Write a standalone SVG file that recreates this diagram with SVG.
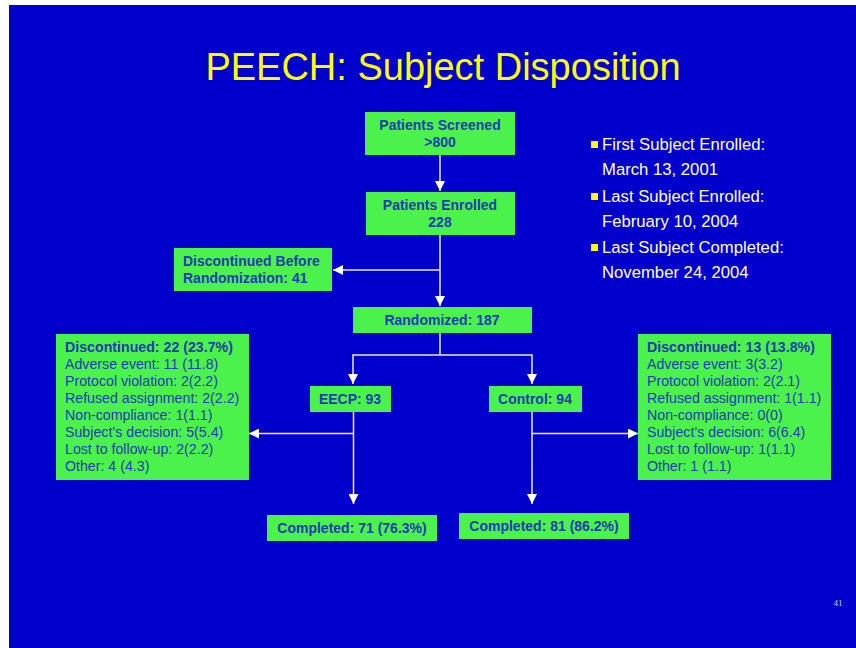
<svg xmlns="http://www.w3.org/2000/svg" width="856" height="648" viewBox="0 0 856 648">
<defs>
<style>
.box{fill:#4CF24C;}
.bt{font-family:"Liberation Sans",Arial,sans-serif;font-size:14px;font-weight:bold;fill:#1E3CB4;text-anchor:middle;}
.lt{font-family:"Liberation Sans",Arial,sans-serif;font-size:14.2px;fill:#1E3CB4;}
.lb{font-weight:bold;}
.wt{font-family:"Liberation Sans",Arial,sans-serif;font-size:16.7px;fill:#FFFFFF;}
.ln{fill:none;stroke:#E8E8FF;stroke-width:1.5;}
</style>
<marker id="ah" viewBox="0 0 10 10" refX="10" refY="5" markerWidth="10" markerHeight="10" markerUnits="userSpaceOnUse" orient="auto">
<path d="M0,0 L10,5 L0,10 Z" fill="#FFFFFF"/>
</marker>
</defs>
<rect x="0" y="0" width="856" height="648" fill="#FFFFFF"/>
<rect x="9" y="5" width="847" height="643" fill="#0000CC"/>
<text x="443" y="80" font-family="Liberation Sans,Arial,sans-serif" font-size="38" fill="#FFFF00" text-anchor="middle">PEECH: Subject Disposition</text>

<g id="connectors">
<line class="ln" x1="440" y1="155" x2="440" y2="191" marker-end="url(#ah)"/>
<line class="ln" x1="440" y1="235" x2="440" y2="306" marker-end="url(#ah)"/>
<line class="ln" x1="440" y1="270" x2="333" y2="270" marker-end="url(#ah)"/>
<polyline class="ln" points="440,333 440,355"/>
<line class="ln" x1="353" y1="355" x2="532" y2="355"/>
<line class="ln" x1="353" y1="354.3" x2="353" y2="384" marker-end="url(#ah)"/>
<line class="ln" x1="532" y1="354.3" x2="532" y2="384" marker-end="url(#ah)"/>
<line class="ln" x1="353.5" y1="412" x2="353.5" y2="504" marker-end="url(#ah)"/>
<line class="ln" x1="353.5" y1="433.5" x2="249" y2="433.5" marker-end="url(#ah)"/>
<line class="ln" x1="532" y1="412" x2="532" y2="504" marker-end="url(#ah)"/>
<line class="ln" x1="532" y1="433.5" x2="638" y2="433.5" marker-end="url(#ah)"/>
</g>

<g id="screened">
<rect class="box" x="365" y="112" width="150" height="43"/>
<text class="bt" x="440" y="130">Patients Screened</text>
<text class="bt" x="440" y="147">&gt;800</text>
</g>
<g id="enrolled">
<rect class="box" x="366" y="192" width="149" height="43"/>
<text class="bt" x="440" y="210">Patients Enrolled</text>
<text class="bt" x="440" y="227">228</text>
</g>
<g id="disc-before">
<rect class="box" x="174" y="248" width="158" height="43"/>
<text class="bt" x="183" y="266" style="text-anchor:start">Discontinued Before</text>
<text class="bt" x="183" y="283" style="text-anchor:start">Randomization: 41</text>
</g>
<g id="randomized">
<rect class="box" x="353" y="307" width="179" height="26"/>
<text class="bt" x="442" y="325">Randomized: 187</text>
</g>
<g id="eecp">
<rect class="box" x="310" y="386" width="81" height="26"/>
<text class="bt" x="350" y="404">EECP: 93</text>
</g>
<g id="control">
<rect class="box" x="489" y="386" width="93" height="26"/>
<text class="bt" x="535" y="404">Control: 94</text>
</g>
<g id="disc-eecp">
<rect class="box" x="56" y="334" width="193" height="146"/>
<text class="lt" x="65" y="352"><tspan class="lb">Discontinued: 22 (23.7%)</tspan></text>
<text class="lt" x="65" y="369">Adverse event: 11 (11.8)</text>
<text class="lt" x="65" y="386">Protocol violation: 2(2.2)</text>
<text class="lt" x="65" y="403">Refused assignment: 2(2.2)</text>
<text class="lt" x="65" y="420">Non-compliance: 1(1.1)</text>
<text class="lt" x="65" y="437">Subject’s decision: 5(5.4)</text>
<text class="lt" x="65" y="454">Lost to follow-up: 2(2.2)</text>
<text class="lt" x="65" y="471">Other: 4 (4.3)</text>
</g>
<g id="disc-control">
<rect class="box" x="638" y="334" width="193" height="146"/>
<text class="lt" x="647" y="352"><tspan class="lb">Discontinued: 13 (13.8%)</tspan></text>
<text class="lt" x="647" y="369">Adverse event: 3(3.2)</text>
<text class="lt" x="647" y="386">Protocol violation: 2(2.1)</text>
<text class="lt" x="647" y="403">Refused assignment: 1(1.1)</text>
<text class="lt" x="647" y="420">Non-compliance: 0(0)</text>
<text class="lt" x="647" y="437">Subject’s decision: 6(6.4)</text>
<text class="lt" x="647" y="454">Lost to follow-up: 1(1.1)</text>
<text class="lt" x="647" y="471">Other: 1 (1.1)</text>
</g>
<g id="completed-eecp">
<rect class="box" x="267" y="515" width="170" height="26"/>
<text class="bt" x="352" y="533">Completed: 71 (76.3%)</text>
</g>
<g id="completed-control">
<rect class="box" x="459" y="513" width="170" height="26"/>
<text class="bt" x="544" y="531">Completed: 81 (86.2%)</text>
</g>

<g id="notes">
<rect x="591" y="141" width="7" height="7" fill="#FFFF00"/>
<text class="wt" x="602" y="150">First Subject Enrolled:</text>
<text class="wt" x="602" y="175">March 13, 2001</text>
<rect x="591" y="193" width="7" height="7" fill="#FFFF00"/>
<text class="wt" x="602" y="202">Last Subject Enrolled:</text>
<text class="wt" x="602" y="227">February 10, 2004</text>
<rect x="591" y="244" width="7" height="7" fill="#FFFF00"/>
<text class="wt" x="602" y="253">Last Subject Completed:</text>
<text class="wt" x="602" y="278">November 24, 2004</text>
</g>
<text x="838" y="606" font-family="Liberation Serif,serif" font-size="9" fill="#D0D0FF" text-anchor="middle">41</text>
</svg>
